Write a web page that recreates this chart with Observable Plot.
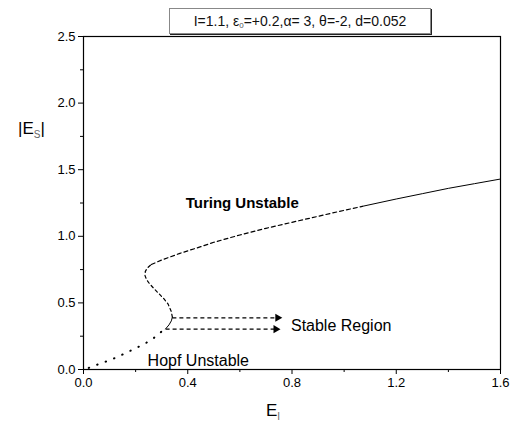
<!DOCTYPE html>
<html>
<head>
<meta charset="utf-8">
<script src="https://cdn.jsdelivr.net/npm/d3@7"></script>
<script src="https://cdn.jsdelivr.net/npm/@observablehq/plot@0.6"></script>
<style>
  html, body { margin: 0; padding: 0; background: #fff; }
  #wrap { position: relative; width: 514px; height: 428px; font-family: "Liberation Sans", Arial, sans-serif; }
  #title { position: absolute; left: 169px; top: 8px; width: 260px; height: 24px; border: 1px solid #888;
           box-shadow: 1px 1px 0 #222; background: #fff; font-size: 14px; line-height: 24px; text-align: center; color: #111; white-space: nowrap; }
  #title sub { font-size: 8px; color: #555; vertical-align: -2px; }
  svg text { font-family: "Liberation Sans", Arial, sans-serif; }
</style>
</head>
<body>
<div id="wrap">
  <div id="title">I=1.1, ε<sub>0</sub>=+0.2,α= 3, θ=-2, d=0.052</div>
</div>
<script>
// Hopf-unstable lower branch (dotted)
const hopfEI = [0.02, 0.037, 0.072, 0.108, 0.142, 0.174, 0.209, 0.238, 0.27, 0.296, 0.315];
const hopfES = [0.012, 0.025, 0.05, 0.075, 0.105, 0.135, 0.168, 0.197, 0.237, 0.28, 0.305];
// stable short segment (solid)
const stableEI = [0.315, 0.328, 0.337, 0.341];
const stableES = [0.305, 0.335, 0.365, 0.393];
// middle branch (dashed)
const midEI = [0.341, 0.336, 0.324, 0.309, 0.29, 0.27, 0.253, 0.242, 0.236, 0.237, 0.244, 0.26];
const midES = [0.393, 0.44, 0.493, 0.53, 0.568, 0.608, 0.645, 0.675, 0.705, 0.735, 0.76, 0.788];
// upper branch (dashed)
const upEI = [0.26, 0.3, 0.37, 0.45, 0.5, 0.6, 0.7, 0.8, 0.9, 1.0, 1.07];
const upES = [0.788, 0.822, 0.872, 0.922, 0.955, 1.01, 1.06, 1.105, 1.15, 1.195, 1.225];
// upper branch (solid)
const solidEI = [1.07, 1.2, 1.3, 1.4, 1.5, 1.6];
const solidES = [1.225, 1.28, 1.32, 1.36, 1.395, 1.43];
// arrows
const arrowY = [0.388, 0.303];
const arrowStart = [0.341, 0.315];
const arrowEnd = [0.745, 0.738];
// ticks
const xTicks = [0, 0.4, 0.8, 1.2, 1.6];
const xMinor = [0.2, 0.6, 1.0, 1.4];
const yTicks = [0, 0.5, 1.0, 1.5, 2.0, 2.5];
const yMinor = [0.25, 0.75, 1.25, 1.75, 2.25];
// labels
const labels = [
  {x: 0.392, y: 1.246, text: "Turing Unstable", bold: true},
  {x: 0.796, y: 0.33, text: "Stable Region", bold: false},
  {x: 0.246, y: 0.068, text: "Hopf Unstable", bold: false}
];

const zip = (a, b) => a.map((v, i) => ({x: v, y: b[i]}));
const arrows = arrowY.map((y, i) => ({x1: arrowStart[i], x2: arrowEnd[i], y}));

const fmt = d3.format(".1f");
const chart = Plot.plot({
  width: 514,
  height: 428,
  marginLeft: 83,
  marginRight: 14,
  marginTop: 36,
  marginBottom: 59,
  style: {fontSize: "13px", color: "#000", background: "#fff", overflow: "visible"},
  x: {domain: [0, 1.6]},
  y: {domain: [0, 2.5]},
  marks: [
    Plot.axisX({ticks: xTicks, tickSize: 5, tickPadding: 3, tickFormat: fmt, label: null, fontSize: 13}),
    Plot.axisX({ticks: xMinor, tickSize: 3, tickFormat: () => "", label: null}),
    Plot.axisY({ticks: yTicks, tickSize: 5, tickPadding: 3, tickFormat: fmt, label: null, fontSize: 13}),
    Plot.axisY({ticks: yMinor, tickSize: 3, tickFormat: () => "", label: null}),
    Plot.frame({stroke: "#000", strokeWidth: 1.2}),
    Plot.line(zip(hopfEI, hopfES), {x: "x", y: "y", stroke: "#000", strokeWidth: 2, strokeLinecap: "round", strokeDasharray: "0.5,8.5"}),
    Plot.line(zip(stableEI, stableES), {x: "x", y: "y", stroke: "#000", strokeWidth: 1}),
    Plot.line(zip(midEI, midES), {x: "x", y: "y", stroke: "#000", strokeWidth: 1.2, strokeDasharray: "3,3"}),
    Plot.line(zip(upEI, upES), {x: "x", y: "y", stroke: "#000", strokeWidth: 1.2, strokeDasharray: "4,3"}),
    Plot.line(zip(solidEI, solidES), {x: "x", y: "y", stroke: "#000", strokeWidth: 1}),
    Plot.link(arrows, {x1: "x1", x2: "x2", y1: "y", y2: "y", stroke: "#000", strokeWidth: 1.2, strokeDasharray: "4,3"}),
    Plot.dot(arrows, {x: "x2", y: "y", symbol: "triangle", rotate: 90, r: 3, fill: "#000", stroke: "none"}),
    Plot.text(labels.filter(d => d.bold), {x: "x", y: "y", text: "text", textAnchor: "start", fontWeight: "bold", fontSize: 15, fill: "#000"}),
    Plot.text(labels.filter(d => !d.bold), {x: "x", y: "y", text: "text", textAnchor: "start", fontSize: 16, fill: "#000"})
  ]
});
document.getElementById("wrap").prepend(chart);
const svg = d3.select(chart);
const yl = svg.append("text").attr("x", 18).attr("y", 134).attr("text-anchor", "start").attr("font-size", 17).attr("fill", "#000");
yl.append("tspan").text("|E");
yl.append("tspan").attr("font-size", 10).attr("dy", 4).attr("fill", "#666").text("S");
yl.append("tspan").attr("dy", -4).text("|");
const xl = svg.append("text").attr("x", 266).attr("y", 416).attr("text-anchor", "start").attr("font-size", 17).attr("fill", "#000");
xl.append("tspan").text("E");
xl.append("tspan").attr("font-size", 10).attr("dy", 4).attr("fill", "#666").text("I");
</script>
</body>
</html>
